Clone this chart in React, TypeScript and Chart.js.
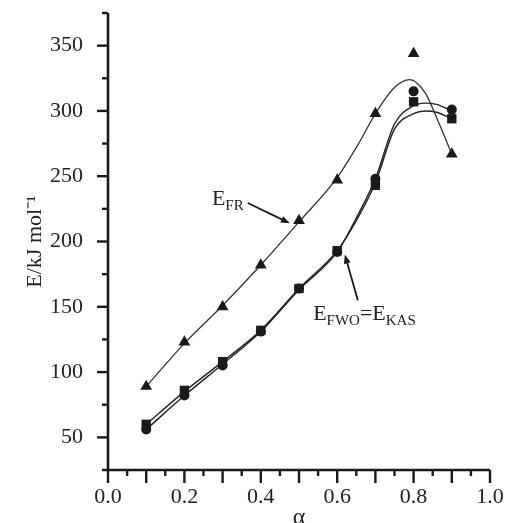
import React, { useEffect, useRef } from "react";
import { Chart, registerables } from "chart.js";

Chart.register(...registerables);

// ---- data ----
const alpha = [0.1, 0.2, 0.3, 0.4, 0.5, 0.6, 0.7, 0.8, 0.9];
const efrValues = [89, 123, 150, 182, 216, 247, 298, 344, 267];
const fwoValues = [56, 82, 105, 131, 164, 192, 248, 315, 301];
const kasValues = [60, 86, 108, 132, 164, 193, 243, 307, 294];

// fitted curves
const efrFitAlpha = [0.1, 0.2, 0.3, 0.4, 0.5, 0.6, 0.66, 0.7, 0.75, 0.79, 0.83, 0.86, 0.9];
const efrFitValues = [89, 122, 151, 182, 215, 249, 277, 298, 318, 324, 314, 295, 267];
const fwoKasFitAlpha = [0.1, 0.2, 0.3, 0.4, 0.5, 0.6, 0.65, 0.7, 0.75, 0.8, 0.83, 0.86, 0.9];
const fwoFitValues = [56, 82, 106, 131, 163, 192, 218, 248, 290, 304, 306, 305, 300];
const kasFitValues = [60, 85, 108, 132, 164, 193, 216, 245, 286, 298, 300, 299, 294];

const xTickValues = [0, 0.2, 0.4, 0.6, 0.8, 1.0];
const xTickLabels = ["0.0", "0.2", "0.4", "0.6", "0.8", "1.0"];
const yTickValues = [50, 100, 150, 200, 250, 300, 350];
const yTickLabels = ["50", "100", "150", "200", "250", "300", "350"];

const xTitle = "α";
const yTitle = "E/kJ mol⁻¹";

// annotation anchors in data coordinates
const efrLabel = { x: 0.272, y: 228, parts: [["E", false], ["FR", true]] };
const efrArrow = { from: [0.366, 229.5], to: [0.476, 214] };
const fwoLabel = { x: 0.537, y: 140, parts: [["E", false], ["FWO", true], ["=", false], ["E", false], ["KAS", true]] };
const fwoArrow = { from: [0.654, 155], to: [0.62, 190] };

const FONT = "'Liberation Serif', 'Times New Roman', serif";
const INK = "#1a1a1a";
const TEXT = "#222";

function pts(xs: number[], ys: number[]) {
  return xs.map((x, i) => ({ x, y: ys[i] }));
}

function drawArrow(ctx: CanvasRenderingContext2D, x1: number, y1: number, x2: number, y2: number) {
  const ang = Math.atan2(y2 - y1, x2 - x1);
  const head = 9;
  const hw = 3.5;
  ctx.beginPath();
  ctx.moveTo(x1, y1);
  ctx.lineTo(x2 - Math.cos(ang) * head * 0.8, y2 - Math.sin(ang) * head * 0.8);
  ctx.stroke();
  ctx.beginPath();
  ctx.moveTo(x2, y2);
  ctx.lineTo(x2 - Math.cos(ang) * head - Math.sin(ang) * hw, y2 - Math.sin(ang) * head + Math.cos(ang) * hw);
  ctx.lineTo(x2 - Math.cos(ang) * head + Math.sin(ang) * hw, y2 - Math.sin(ang) * head - Math.cos(ang) * hw);
  ctx.closePath();
  ctx.fill();
}

function drawParts(ctx: CanvasRenderingContext2D, x: number, y: number, parts: any[]) {
  let cx = x;
  ctx.textBaseline = "alphabetic";
  ctx.textAlign = "left";
  for (const [t, sub] of parts) {
    ctx.font = sub ? `15px ${FONT}` : `22px ${FONT}`;
    ctx.fillText(t, cx, sub ? y + 5 : y);
    cx += ctx.measureText(t).width;
  }
}

const decorPlugin = {
  id: "decor",
  afterDraw(chart: any) {
    const { ctx } = chart;
    const xs = chart.scales.x;
    const ys = chart.scales.y;
    ctx.save();
    ctx.strokeStyle = INK;
    ctx.fillStyle = INK;
    ctx.lineWidth = 2.6;
    ctx.lineCap = "butt";
    const x0 = xs.getPixelForValue(xs.min);
    const x1 = xs.getPixelForValue(xs.max);
    const y0 = ys.getPixelForValue(ys.min);
    const y1 = ys.getPixelForValue(ys.max);
    ctx.beginPath();
    ctx.moveTo(x0, y1);
    ctx.lineTo(x0, y0);
    ctx.lineTo(x1, y0);
    ctx.stroke();
    ctx.lineWidth = 2.4;
    // x ticks: every 0.05, long at 0.1
    for (let i = 0; i <= 20; i++) {
      const px = xs.getPixelForValue(i / 20);
      const len = i % 2 === 0 ? 13 : 6;
      ctx.beginPath();
      ctx.moveTo(px, y0);
      ctx.lineTo(px, y0 + len);
      ctx.stroke();
    }
    // y ticks: every 25, long at 50
    for (let v = 25; v <= 375; v += 25) {
      const py = ys.getPixelForValue(v);
      const len = v % 50 === 0 ? 11 : 6;
      ctx.beginPath();
      ctx.moveTo(x0, py);
      ctx.lineTo(x0 - len, py);
      ctx.stroke();
    }
    // annotations
    ctx.fillStyle = TEXT;
    drawParts(ctx, xs.getPixelForValue(efrLabel.x), ys.getPixelForValue(efrLabel.y), efrLabel.parts);
    drawParts(ctx, xs.getPixelForValue(fwoLabel.x), ys.getPixelForValue(fwoLabel.y), fwoLabel.parts);
    ctx.strokeStyle = INK;
    ctx.fillStyle = INK;
    ctx.lineWidth = 1.8;
    for (const a of [efrArrow, fwoArrow]) {
      drawArrow(
        ctx,
        xs.getPixelForValue(a.from[0]),
        ys.getPixelForValue(a.from[1]),
        xs.getPixelForValue(a.to[0]),
        ys.getPixelForValue(a.to[1])
      );
    }
    ctx.restore();
  },
};

export default function App() {
  const ref = useRef<HTMLCanvasElement | null>(null);

  useEffect(() => {
    if (!ref.current) return;
    const markerBase = {
      showLine: false,
      backgroundColor: INK,
      borderColor: INK,
      borderWidth: 0,
    };
    const curveBase = {
      showLine: true,
      pointRadius: 0,
      fill: false,
      cubicInterpolationMode: "monotone" as const,
    };
    const chart = new Chart(ref.current, {
      type: "scatter",
      data: {
        datasets: [
          { ...markerBase, label: "E_FR", data: pts(alpha, efrValues), pointStyle: "triangle", pointRadius: 6.8 },
          { ...markerBase, label: "E_FWO", data: pts(alpha, fwoValues), pointStyle: "circle", pointRadius: 5 },
          { ...markerBase, label: "E_KAS", data: pts(alpha, kasValues), pointStyle: "rect", pointRadius: 6.6 },
          { ...curveBase, label: "E_FR fit", data: pts(efrFitAlpha, efrFitValues), borderColor: "#333", borderWidth: 1.3 },
          { ...curveBase, label: "E_FWO fit", data: pts(fwoKasFitAlpha, fwoFitValues), borderColor: "#222", borderWidth: 1.4 },
          { ...curveBase, label: "E_KAS fit", data: pts(fwoKasFitAlpha, kasFitValues), borderColor: "#222", borderWidth: 1.4 },
        ],
      },
      options: {
        responsive: false,
        animation: false,
        layout: { padding: { top: 13, right: 17, left: 0, bottom: 0 } },
        plugins: { legend: { display: false }, tooltip: { enabled: false } },
        scales: {
          x: {
            type: "linear",
            min: 0,
            max: 1,
            grid: { display: false },
            border: { display: false },
            afterFit: (s: any) => {
              s.height = 53;
              s.paddingLeft = 0;
              s.paddingRight = 0;
            },
            afterBuildTicks: (s: any) => {
              s.ticks = xTickValues.map((v) => ({ value: v }));
            },
            ticks: {
              padding: 6,
              color: TEXT,
              font: { family: FONT, size: 22 },
              maxRotation: 0,
              callback: (v: any) => xTickLabels[xTickValues.findIndex((t) => Math.abs(t - v) < 1e-9)],
            },
            title: {
              display: true,
              text: xTitle,
              color: TEXT,
              font: { family: FONT, size: 24 },
              padding: { top: 0, bottom: -9 },
            },
          },
          y: {
            type: "linear",
            min: 25,
            max: 375,
            grid: { display: false },
            border: { display: false },
            afterFit: (s: any) => {
              s.width = 108;
              s.paddingTop = 0;
              s.paddingBottom = 0;
            },
            afterBuildTicks: (s: any) => {
              s.ticks = yTickValues.map((v) => ({ value: v }));
            },
            ticks: {
              padding: 17,
              color: TEXT,
              font: { family: FONT, size: 22 },
              callback: (v: any) => yTickLabels[yTickValues.indexOf(v)],
            },
            title: {
              display: true,
              text: yTitle,
              color: TEXT,
              font: { family: FONT, size: 22 },
              padding: { top: 22, bottom: 0 },
            },
          },
        },
      },
      plugins: [decorPlugin],
    });
    return () => chart.destroy();
  }, []);

  return (
    <div style={{ position: "absolute", left: 0, top: 0, width: 507, height: 523, background: "#fff" }}>
      <canvas ref={ref} width={507} height={523} style={{ display: "block" }} />
    </div>
  );
}
